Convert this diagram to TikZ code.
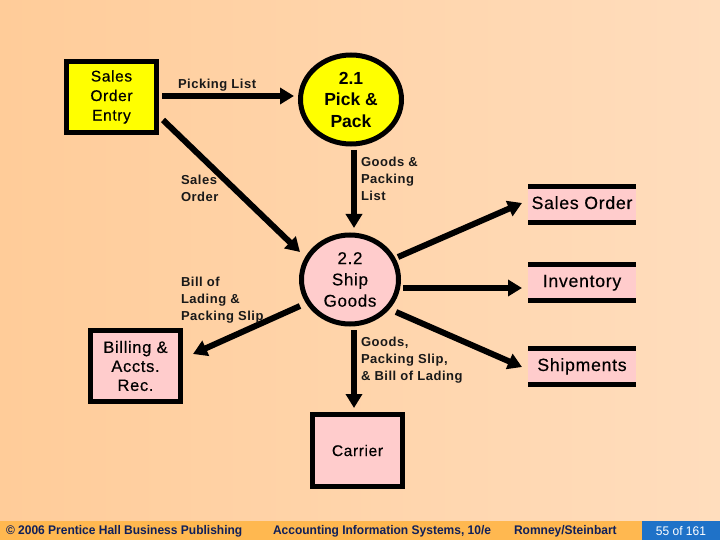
\documentclass[tikz,border=0pt]{standalone}
\usepackage{fontspec}
\setmainfont{Liberation Sans}
\newfontfamily\semifont[FakeBold=0.35,LetterSpace=4]{Liberation Sans}
\newfontfamily\labfont[BoldFont={Liberation Sans Bold},LetterSpace=4]{Liberation Sans}
\newfontfamily\footfont[FakeStretch=0.96]{Liberation Sans}
\usetikzlibrary{arrows.meta,shapes.geometric}
\definecolor{bgleft}{HTML}{FFCC99}
\definecolor{bgright}{HTML}{FFDDBD}
\definecolor{procy}{HTML}{FFFF00}
\definecolor{procp}{HTML}{FFCCCC}
\definecolor{footbar}{HTML}{FFB850}
\definecolor{footblue}{HTML}{1F72C8}
\definecolor{foottext}{HTML}{10205A}
\newcommand{\fsz}[2]{\fontsize{#1pt}{#2pt}\selectfont}
\tikzset{
  boxnode/.style={draw=black,line width=5pt,rectangle,inner sep=0pt,outer sep=0pt,align=center,text=black},
  procnode/.style={draw=black,line width=5pt,ellipse,inner sep=0pt,outer sep=0pt,align=center,text=black},
  storefill/.style={fill=procp,inner sep=0pt,outer sep=0pt,align=center,minimum width=108pt,minimum height=31pt,text=black,text height=12.5pt,text depth=3.5pt,font=\semifont\fsz{17.7}{20}},
  storebar/.style={fill=black,draw=none},
  flow/.style={line width=6pt,-{Triangle[length=14pt,width=16pt]}},
  lab/.style={anchor=north west,inner sep=0pt,outer sep=0pt,align=left,font=\labfont\fsz{13}{17}\bfseries,text=black!90},
  foot/.style={inner sep=0pt,outer sep=0pt,font=\footfont\fsz{12.5}{14}\bfseries,text=foottext}
}
\begin{document}
\begin{tikzpicture}[x=1pt,y=-1pt]
\useasboundingbox (0,0) rectangle (720,540);
\shade[left color=bgleft,right color=bgright,shading angle=90,draw=none] (0,0) rectangle (720,540);
\fill[footbar] (0,521) rectangle (642,540);
\fill[footblue] (642,521) rectangle (720,540);
% processes
\node[boxnode,fill=procy,minimum width=89.5pt,minimum height=71.5pt,font=\semifont\fsz{15.5}{19.5}] (soe) at (111.5,97) {Sales\\Order\\Entry};
\node[procnode,fill=procy,minimum width=101pt,minimum height=89pt,font=\fsz{17.5}{21.5}\bfseries] (pick) at (351,99.5) {2.1\\Pick \&\\Pack};
\node[procnode,fill=procp,minimum width=97pt,minimum height=89pt,font=\semifont\fsz{17}{21.3}] (ship) at (350,279.5) {2.2\\Ship\\Goods};
\node[boxnode,fill=procp,minimum width=90pt,minimum height=71pt,font=\semifont\fsz{16.5}{19}] (bill) at (135.5,366) {Billing \&\\Accts.\\Rec.};
\node[boxnode,fill=procp,minimum width=90pt,minimum height=72pt,font=\semifont\fsz{15.5}{18}] (carrier) at (357.5,450.5) {Carrier};
% data stores
\node[storefill] (dsso) at (582,204.5) {Sales Order};
\node[storefill] (dsinv) at (582,282.5) {Inventory};
\node[storefill] (dsship) at (582,366.5) {Shipments};
\foreach \n in {dsso,dsinv,dsship}{
  \fill[storebar] (\n.north west) ++(0,-5) rectangle (\n.north east);
  \fill[storebar] (\n.south west) rectangle ++(108,5);
}
% flows
\draw[flow] ([shift={(5.75,-1)}]soe.east) -- ([shift={(-6.5,-3.5)}]pick.west);
\draw[flow] ([shift={(6.75,-12.75)}]soe.south east) -- ([shift={(-1.5,-27.5)}]ship.west);
\draw[flow] ([shift={(3,6)}]pick.south) -- ([shift={(4,-7)}]ship.north);
\draw[flow] ([shift={(-1.5,26.5)}]ship.west) -- ([shift={(12.5,23.5)}]bill.north east);
\draw[flow] ([shift={(-0.5,-22.5)}]ship.east) -- ([shift={(-6,-1.5)}]dsso.west);
\draw[flow] ([shift={(4.5,8.5)}]ship.east) -- ([shift={(-6,5.5)}]dsinv.west);
\draw[flow] ([shift={(-2.5,32.5)}]ship.east) -- ([shift={(-6,0.5)}]dsship.west);
\draw[flow] ([shift={(4,6)}]ship.south) -- ([shift={(-3.5,-6.5)}]carrier.north);
% flow labels
\node[lab] (l1) at (178,79.5) {Picking List};
\node[lab] (l2) at (181,175) {Sales\\Order};
\node[lab] (l3) at (361,157) {Goods \&\\Packing\\List};
\node[lab] (l4) at (181,277) {Bill of\\Lading \&\\Packing Slip};
\node[lab] (l5) at (361,337) {Goods,\\Packing Slip,\\\& Bill of Lading};
% footer
\node[foot,anchor=west] (f1) at (6,531.5) {© 2006 Prentice Hall Business Publishing};
\node[foot,anchor=west] (f2) at (273,531.5) {Accounting Information Systems, 10/e};
\node[foot,anchor=west] (f3) at (514,531.5) {Romney/Steinbart};
\node[foot,anchor=center,text=white,font=\footfont\fsz{12.5}{14}] (f4) at (681,531.5) {55 of 161};
\end{tikzpicture}
\end{document}
